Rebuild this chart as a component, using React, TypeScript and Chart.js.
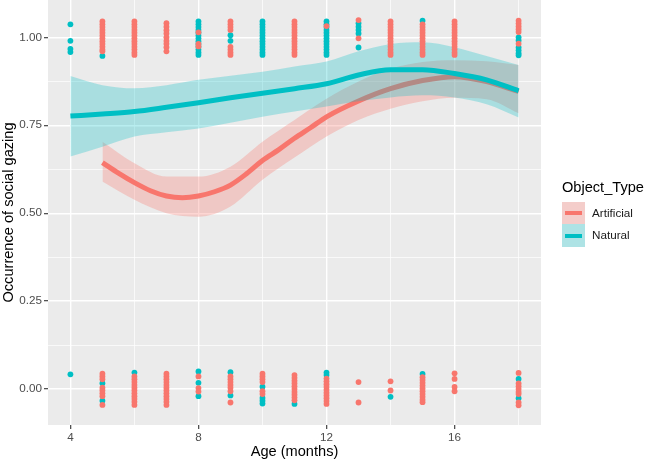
import React, { useEffect, useRef } from "react";
import { Chart, registerables } from "chart.js";

Chart.register(...registerables);

const RED = "#F8766D";
const TEAL = "#00BFC4";
const RED_FILL = "rgba(248,118,109,0.3)";
const TEAL_FILL = "rgba(0,191,196,0.28)";
const FONT = "'Liberation Sans', Arial, Helvetica, sans-serif";

// smooth fits
const naturalAges = [4, 5, 6, 7, 8, 9, 10, 11, 12, 13, 14, 15, 16, 17, 18];
const naturalFit = [0.776, 0.782, 0.789, 0.801, 0.814, 0.828, 0.841, 0.854, 0.868, 0.893, 0.908, 0.908, 0.897, 0.879, 0.848];
const naturalUpper = [0.89, 0.864, 0.855, 0.864, 0.879, 0.891, 0.902, 0.917, 0.931, 0.96, 0.981, 0.986, 0.972, 0.947, 0.921];
const naturalLower = [0.661, 0.689, 0.718, 0.73, 0.741, 0.757, 0.774, 0.789, 0.803, 0.818, 0.829, 0.835, 0.829, 0.81, 0.772];

const artificialLineAges = [5, 5.5, 6, 6.5, 7, 7.5, 8, 8.5, 9, 9.5, 10, 10.5, 11, 11.5, 12, 13, 14, 15, 16, 17, 18];
const artificialFit = [0.644, 0.614, 0.587, 0.564, 0.549, 0.544, 0.549, 0.561, 0.58, 0.612, 0.65, 0.68, 0.713, 0.743, 0.774, 0.819, 0.854, 0.877, 0.888, 0.874, 0.846];
const artificialBandAges = [5, 6, 7, 8, 9, 10, 11, 12, 13, 14, 15, 16, 17, 18];
const artificialUpper = [0.703, 0.642, 0.604, 0.604, 0.632, 0.703, 0.765, 0.825, 0.874, 0.911, 0.93, 0.935, 0.932, 0.921];
const artificialLower = [0.59, 0.538, 0.5, 0.49, 0.519, 0.595, 0.658, 0.718, 0.765, 0.797, 0.818, 0.828, 0.824, 0.784];

// observed (jittered) responses: [age, values]
const artificialHigh: [number, number[]][] = [
  [5, [1.045, 1.037, 1.029, 1.021, 1.013, 1.005, 0.997, 0.989, 0.981, 0.973, 0.965, 0.96]],
  [6, [1.045, 1.037, 1.029, 1.021, 1.013, 1.005, 0.997, 0.989, 0.981, 0.973, 0.965, 0.957, 0.95]],
  [7, [1.04, 1.03, 1.02, 1.011, 1.0, 0.99, 0.982, 0.972, 0.96]],
  [8, [1.014, 0.981, 0.974]],
  [9, [1.045, 1.037, 1.029, 1.021, 0.973, 0.965, 0.957, 0.95]],
  [11, [1.045, 1.037, 1.029, 1.021, 1.013, 1.005, 0.997, 0.989, 0.981, 0.973, 0.965, 0.957, 0.95]],
  [12, [1.032]],
  [13, [1.049, 0.997]],
  [14, [1.045, 1.037, 1.029, 1.021, 1.013, 1.005, 0.997, 0.989, 0.981, 0.973, 0.965, 0.957, 0.95]],
  [15, [1.037, 1.029, 1.021, 1.013, 1.005, 0.997, 0.989, 0.981, 0.973, 0.965, 0.957, 0.95]],
  [16, [1.045, 1.037, 1.029, 1.021, 1.013, 1.005, 0.997, 0.989, 0.981, 0.973, 0.965, 0.957, 0.95]],
  [18, [1.047, 1.039, 1.031, 1.023, 1.015, 0.982]],
];
const naturalHigh: [number, number[]][] = [
  [4, [1.037, 0.99, 0.967, 0.958]],
  [5, [0.947]],
  [8, [1.045, 1.037, 1.029, 1.021, 1.013, 1.005, 0.997, 0.989, 0.981, 0.973, 0.965, 0.957, 0.95]],
  [9, [1.006, 0.99]],
  [10, [1.045, 1.037, 1.029, 1.021, 1.013, 1.005, 0.997, 0.989, 0.981, 0.973, 0.965, 0.957, 0.95]],
  [12, [1.045, 1.037, 1.029, 1.021, 1.013, 1.005, 0.997, 0.989, 0.981, 0.973, 0.965, 0.957, 0.95]],
  [13, [1.04, 1.03, 1.021, 1.011, 0.971]],
  [15, [1.047]],
  [18, [1.0, 0.991, 0.971, 0.963, 0.955, 0.949]],
];
const artificialLow: [number, number[]][] = [
  [5, [0.044, 0.036, 0.028, 0.004, -0.004, -0.012, -0.02, -0.045]],
  [6, [0.036, 0.028, 0.02, 0.012, 0.004, -0.004, -0.012, -0.02, -0.028, -0.036, -0.045]],
  [7, [0.044, 0.036, 0.028, 0.02, 0.012, 0.004, -0.004, -0.012, -0.02, -0.028, -0.036, -0.045]],
  [8, [0.036, 0.003, -0.007]],
  [9, [0.036, 0.028, 0.02, 0.012, 0.004, -0.006, -0.038]],
  [10, [0.044, 0.036, 0.028, 0.02, -0.006, -0.014]],
  [11, [0.04, 0.032, 0.024, 0.016, 0.008, 0.0, -0.008, -0.016, -0.024, -0.032]],
  [12, [0.03, 0.022, 0.014, 0.006, -0.002, -0.01, -0.018, -0.026, -0.034, -0.042]],
  [13, [0.02, -0.038]],
  [14, [0.022, -0.004]],
  [15, [0.034, 0.026, 0.018, 0.01, 0.002, -0.006, -0.014, -0.022, -0.03, -0.037]],
  [16, [0.045, 0.029, 0.006, -0.006]],
  [18, [0.046, 0.016, 0.008, 0.0, -0.008, -0.014, -0.038, -0.046]],
];
const naturalLow: [number, number[]][] = [
  [4, [0.042]],
  [5, [0.017, -0.033]],
  [6, [0.047]],
  [8, [0.05, 0.018, -0.02]],
  [9, [0.048, -0.018]],
  [10, [0.007, -0.025, -0.033, -0.041]],
  [11, [-0.042]],
  [12, [0.047, 0.04]],
  [14, [-0.022]],
  [15, [0.043]],
  [18, [0.029, -0.026]],
];

const xTicks = [4, 6, 8, 10, 12, 14, 16, 18];
const xLabelTicks = [4, 8, 12, 16];
const yTicks = [0, 0.125, 0.25, 0.375, 0.5, 0.625, 0.75, 0.875, 1];
const yLabelTicks = [0, 0.25, 0.5, 0.75, 1];

const legendTitle = "Object_Type";
const legendLabels = ["Artificial", "Natural"];

const toPts = (groups: [number, number[]][]) =>
  groups.flatMap(([age, vals]) => vals.map((v) => ({ x: age, y: v })));
const zip = (xs: number[], ys: number[]) => xs.map((x, i) => ({ x, y: ys[i] }));

const panelBg = {
  id: "panelBg",
  beforeDraw(chart: any) {
    const { ctx, chartArea } = chart;
    ctx.save();
    ctx.fillStyle = "#FFFFFF";
    ctx.fillRect(0, 0, chart.width, chart.height);
    ctx.fillStyle = "#EBEBEB";
    ctx.fillRect(chartArea.left, chartArea.top, chartArea.right - chartArea.left, chartArea.bottom - chartArea.top);
    ctx.restore();
  },
};

export default function App() {
  const ref = useRef<HTMLCanvasElement | null>(null);

  useEffect(() => {
    document.body.style.margin = "0";
    if (!ref.current) return;
    const isMajorX = (v: number) => xLabelTicks.includes(v);
    const isMajorY = (v: number) => yLabelTicks.some((t) => Math.abs(t - v) < 1e-9);
    const lineCommon = {
      showLine: true,
      pointRadius: 0,
      cubicInterpolationMode: "monotone" as const,
      borderCapStyle: "butt" as const,
    };
    const chart = new Chart(ref.current, {
      type: "scatter",
      data: {
        datasets: [
          {
            label: "Artificial points",
            data: [...toPts(artificialHigh), ...toPts(artificialLow)],
            backgroundColor: RED,
            borderWidth: 0,
            pointRadius: 2.9,
            order: 1,
          },
          {
            label: "Natural points",
            data: [...toPts(naturalHigh), ...toPts(naturalLow)],
            backgroundColor: TEAL,
            borderWidth: 0,
            pointRadius: 2.9,
            order: 2,
          },
          {
            label: "Natural fit",
            data: zip(naturalAges, naturalFit),
            borderColor: TEAL,
            borderWidth: 5,
            ...lineCommon,
            order: 3,
          },
          {
            label: "Natural upper",
            data: zip(naturalAges, naturalUpper),
            borderWidth: 0,
            borderColor: "rgba(0,0,0,0)",
            backgroundColor: TEAL_FILL,
            fill: 4,
            ...lineCommon,
            order: 4,
          },
          {
            label: "Natural lower",
            data: zip(naturalAges, naturalLower),
            borderWidth: 0,
            borderColor: "rgba(0,0,0,0)",
            ...lineCommon,
            order: 4.5,
          },
          {
            label: "Artificial fit",
            data: zip(artificialLineAges, artificialFit),
            borderColor: RED,
            borderWidth: 5,
            ...lineCommon,
            order: 5,
          },
          {
            label: "Artificial upper",
            data: zip(artificialBandAges, artificialUpper),
            borderWidth: 0,
            borderColor: "rgba(0,0,0,0)",
            backgroundColor: RED_FILL,
            fill: 7,
            ...lineCommon,
            order: 6,
          },
          {
            label: "Artificial lower",
            data: zip(artificialBandAges, artificialLower),
            borderWidth: 0,
            borderColor: "rgba(0,0,0,0)",
            ...lineCommon,
            order: 7,
          },
        ] as any,
      },
      options: {
        animation: false,
        responsive: false,
        events: [],
        layout: { autoPadding: false, padding: { left: 0, top: 0, right: 104, bottom: 0 } },
        plugins: { legend: { display: false }, tooltip: { enabled: false } },
        scales: {
          x: {
            type: "linear",
            min: 3.3,
            max: 18.7,
            afterBuildTicks: (axis: any) => {
              axis.ticks = xTicks.map((v) => ({ value: v }));
            },
            afterFit: (axis: any) => {
              axis.height = 37;
              axis.paddingLeft = 0;
              axis.paddingRight = 0;
            },
            border: { display: false },
            grid: {
              color: "#FFFFFF",
              lineWidth: (c: any) => (isMajorX(c.tick?.value) ? 1.4 : 0.7),
              tickColor: (c: any) => (isMajorX(c.tick?.value) ? "#333333" : "rgba(0,0,0,0)"),
              tickLength: 4,
              tickWidth: 1.1,
            },
            ticks: {
              autoSkip: false,
              maxRotation: 0,
              padding: 2,
              color: "#4D4D4D",
              font: { family: FONT, size: 11.7 },
              callback: (v: any) => (isMajorX(Number(v)) ? String(v) : ""),
            },
            title: {
              display: true,
              text: "Age (months)",
              color: "#000000",
              font: { family: FONT, size: 14.6 },
              padding: { top: 0, bottom: 1 },
            },
          },
          y: {
            type: "linear",
            min: -0.102,
            max: 1.106,
            afterBuildTicks: (axis: any) => {
              axis.ticks = yTicks.map((v) => ({ value: v }));
            },
            afterFit: (axis: any) => {
              axis.width = 48;
              axis.paddingTop = 0;
              axis.paddingBottom = 0;
            },
            border: { display: false },
            grid: {
              color: "#FFFFFF",
              lineWidth: (c: any) => (isMajorY(c.tick?.value) ? 1.4 : 0.7),
              tickColor: (c: any) => (isMajorY(c.tick?.value) ? "#333333" : "rgba(0,0,0,0)"),
              tickLength: 4,
              tickWidth: 1.1,
            },
            ticks: {
              autoSkip: false,
              padding: 2,
              color: "#4D4D4D",
              font: { family: FONT, size: 11.7 },
              callback: (v: any) => (isMajorY(Number(v)) ? Number(v).toFixed(2) : ""),
            },
            title: {
              display: true,
              text: "Occurrence of social gazing",
              color: "#000000",
              font: { family: FONT, size: 14.6 },
              padding: { top: 0, bottom: 0 },
            },
          },
        },
      },
      plugins: [panelBg],
    });
    return () => chart.destroy();
  }, []);

  return (
    <div style={{ position: "relative", width: 645, height: 462, background: "#FFFFFF", fontFamily: FONT }}>
      <canvas ref={ref} width={645} height={462} style={{ display: "block", width: 645, height: 462 }} />
      <div style={{ position: "absolute", left: 562, top: 179, fontSize: 14.6, lineHeight: "17px", color: "#000" }}>
        {legendTitle}
      </div>
      {[RED, TEAL].map((col, i) => (
        <React.Fragment key={i}>
          <div
            style={{
              position: "absolute",
              left: 562,
              top: 201.7 + i * 22.5,
              width: 23,
              height: 22.5,
              background: "#F2F2F2",
            }}
          >
            <div style={{ position: "absolute", inset: 0, background: i === 0 ? RED_FILL : TEAL_FILL }} />
            <div style={{ position: "absolute", left: 3, right: 3, top: 9.5, height: 4, background: col }} />
          </div>
          <div
            style={{
              position: "absolute",
              left: 592,
              top: 201.7 + i * 22.5,
              height: 22.5,
              lineHeight: "22.5px",
              fontSize: 11.7,
              color: "#1A1A1A",
            }}
          >
            {legendLabels[i]}
          </div>
        </React.Fragment>
      ))}
    </div>
  );
}
